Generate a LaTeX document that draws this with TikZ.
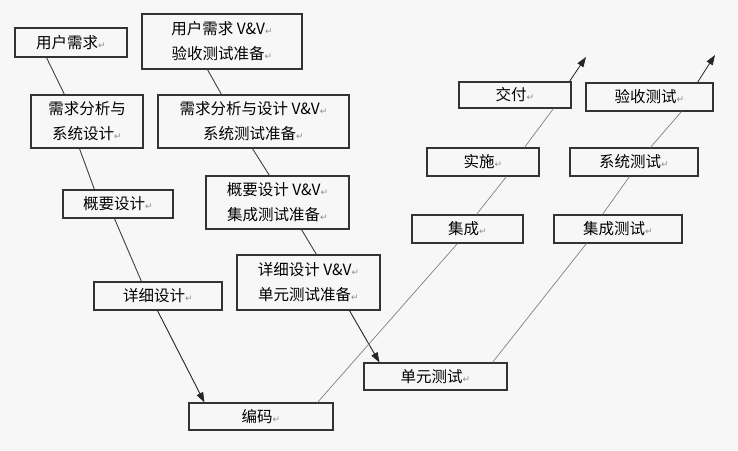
\documentclass[tikz,border=0pt]{standalone}
\usepackage{fontspec}
\setmainfont{Noto Sans CJK SC}
\newfontfamily\arrowfont{DejaVu Sans}
\usetikzlibrary{arrows.meta}
\newcommand{\enterMark}{{\arrowfont\fontsize{9}{9}\selectfont\color{black!45}↵}}

\begin{document}
\begin{tikzpicture}[x=1pt, y=-1pt,
    box/.style={draw=black!80, line width=1.1pt, inner sep=0pt, align=center,
                font=\fontsize{15.5}{25}\selectfont, text=black},
    size/.style 2 args={minimum width=#1pt, minimum height=#2pt},
    link/.style={draw=black!75, line width=0.9pt},
    light link/.style={draw=black!50, line width=0.7pt},
    every edge/.style={draw, -{Triangle[length=10pt, width=7pt]}, line width=0.9pt, black!85}]

    \useasboundingbox (0,0) rectangle (738,450);
    \fill[black!3] (0,0) rectangle (738,450);

    % Nodes: development side
    \node (ur)    [box, size={112}{29}] at (71,42.5)    {用户需求\enterMark};
    \node (ana)   [box, size={112}{53}] at (87,121.5)   {需求分析与\\系统设计\enterMark};
    \node (hld)   [box, size={110}{28}] at (118,204)    {概要设计\enterMark};
    \node (dd)    [box, size={128}{28}] at (158,296)    {详细设计\enterMark};
    \node (code)  [box, size={144}{27}] at (261,416.5)  {编码\enterMark};

    % Nodes: V&V side
    \node (urvv)  [box, size={160}{55}] at (222,41.5)   {用户需求 V\&V\enterMark\\验收测试准备\enterMark};
    \node (anavv) [box, size={191}{53}] at (253.5,121.5) {需求分析与设计 V\&V\enterMark\\系统测试准备\enterMark};
    \node (hldvv) [box, size={143}{53}] at (277.5,202.5) {概要设计 V\&V\enterMark\\集成测试准备\enterMark};
    \node (ddvv)  [box, size={143}{55}] at (308.5,282.5) {详细设计 V\&V\enterMark\\单元测试准备\enterMark};

    % Nodes: integration and testing side
    \node (ut)    [box, size={143}{27}] at (435.5,376.5) {单元测试\enterMark};
    \node (integ) [box, size={111}{28}] at (467.5,229)  {集成\enterMark};
    \node (impl)  [box, size={112}{28}] at (483,162)    {实施\enterMark};
    \node (deliv) [box, size={112}{26}] at (515,95)     {交付\enterMark};
    \node (it)    [box, size={128}{28}] at (618,229)    {集成测试\enterMark};
    \node (st)    [box, size={128}{28}] at (634,162)    {系统测试\enterMark};
    \node (at)    [box, size={127}{28}] at (649.5,97)   {验收测试\enterMark};

    \coordinate (dtip) at (586,57);
    \coordinate (atip) at (715,55);

    % Edges: left chain
    \draw[link] ([xshift=32pt]ur.south west) -- ([xshift=34pt]ana.north west);
    \draw[link] ([xshift=49pt]ana.south west) -- ([xshift=32pt]hld.north west);
    \draw[link] ([xshift=52pt]hld.south west) -- ([xshift=48pt]dd.north west);
    \draw ([xshift=64pt]dd.south west) edge ([xshift=16pt]code.north west);

    % Edges: V&V chain
    \draw[link] ([xshift=66pt]urvv.south west) -- ([xshift=64pt]anavv.north west);
    \draw[link] ([xshift=95pt]anavv.south west) -- ([xshift=64pt]hldvv.north west);
    \draw[link] ([xshift=96pt]hldvv.south west) -- ([xshift=80pt]ddvv.north west);
    \draw ([xshift=113pt]ddvv.south west) edge ([xshift=16pt]ut.north west);

    % Edges: right chains
    \draw[light link] ([xshift=129pt]code.north west) -- ([xshift=46pt]integ.south west);
    \draw[light link] ([xshift=65pt]integ.north west) -- ([xshift=80pt]impl.south west);
    \draw[light link] ([xshift=98pt]impl.north west) -- ([xshift=95pt]deliv.south west);
    \draw ([xshift=111pt]deliv.north west) edge[line width=0.8pt] (dtip);

    \draw[light link] ([xshift=129pt]ut.north west) -- ([xshift=33pt]it.south west);
    \draw[light link] ([xshift=49pt]it.north west) -- ([xshift=60pt]st.south west);
    \draw[light link] ([xshift=81pt]st.north west) -- ([xshift=96pt]at.south west);
    \draw ([xshift=112pt]at.north west) edge[line width=0.8pt] (atip);
\end{tikzpicture}
\end{document}
